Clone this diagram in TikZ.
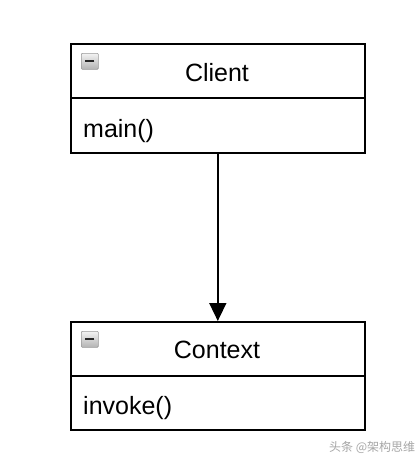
\documentclass[tikz,border=0pt]{standalone}
\usepackage{fontspec}
\setmainfont{Liberation Sans}
\newfontfamily\cjk{Noto Sans CJK SC}
\usetikzlibrary{arrows.meta}
\begin{document}
\begin{tikzpicture}[x=1pt,y=-1pt,
  boxline/.style={line width=1.6pt,draw=black},
  title/.style={font=\fontsize{25}{29}\selectfont,anchor=base,inner sep=0pt},
  member/.style={font=\fontsize{25}{29}\selectfont,anchor=base west,inner sep=0pt},
  icon/.style={draw=gray!80,line width=0.7pt,top color=gray!10,bottom color=gray!60,minimum width=17pt,minimum height=16pt,inner sep=0pt,anchor=north west,rounded corners=1pt},
  minus/.style={line width=2.2pt,draw=black!85}
]
\useasboundingbox[fill=white] (0,0) rectangle (417,463);
% Client
\node[boxline,rectangle,minimum width=294pt,minimum height=109pt,anchor=north west,inner sep=0pt] (client) at (70,43) {};
\draw[boxline] (70,98) -- (364,98);
\node[icon] (ic1) at (81,53) {};
\draw[minus] ([xshift=4.5pt]ic1.center) -- ([xshift=-4.5pt]ic1.center);
\node[title] (ctitle) at (217,81) {Client};
\node[member] (cmain) at (83,137) {main()};
% Context
\node[boxline,rectangle,minimum width=294pt,minimum height=108pt,anchor=north west,inner sep=0pt] (context) at (70,321) {};
\draw[boxline] (70,376) -- (364,376);
\node[icon] (ic2) at (81,331) {};
\draw[minus] ([xshift=4.5pt]ic2.center) -- ([xshift=-4.5pt]ic2.center);
\node[title] (xtitle) at (217,358) {Context};
\node[member] (xinv) at (83,414) {invoke()};
% arrow
\draw[line width=1.6pt,-{Triangle[length=18pt,width=17pt]}] (client.south) -- (context.north);
% watermark
\node[font=\cjk\fontsize{12}{14}\selectfont,text=gray!70,anchor=base west,inner sep=0pt] (wm) at (329,451) {头条 @架构思维};
\end{tikzpicture}
\end{document}
